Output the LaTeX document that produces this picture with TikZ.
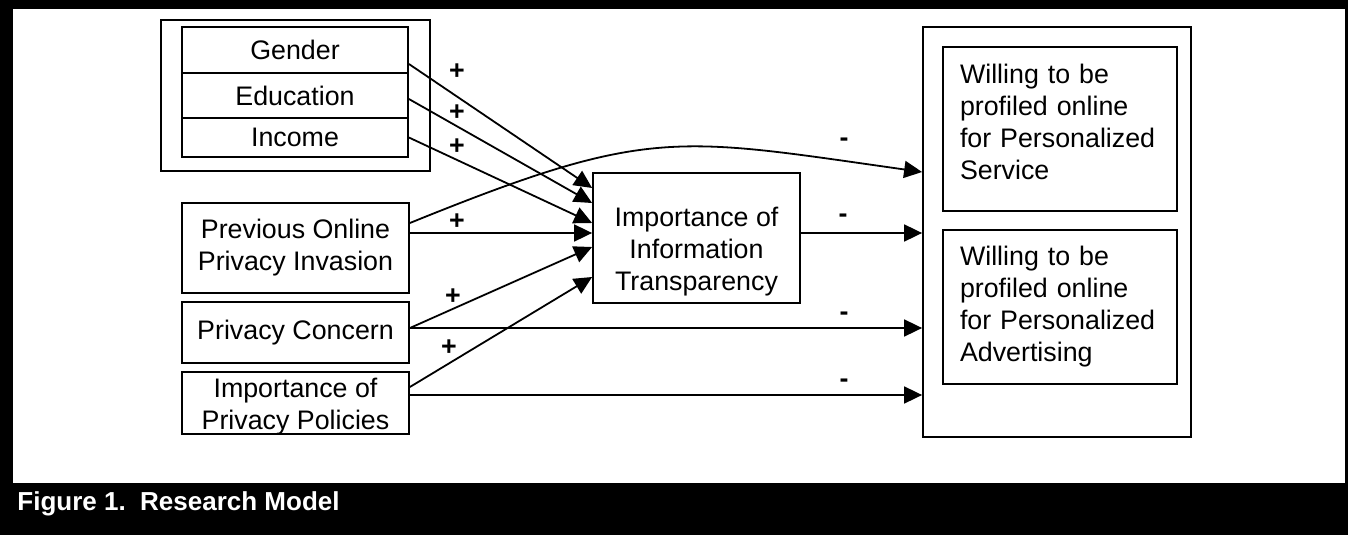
\documentclass[tikz,border=0pt]{standalone}
\usepackage{fontspec}
\setmainfont{Liberation Sans}
\usetikzlibrary{arrows.meta}

\begin{document}
\begin{tikzpicture}[x=0.5pt,y=-0.5pt,
  box/.style={draw,line width=0.9pt,inner sep=0pt,align=center,font=\fontsize{13.4}{16}\selectfont},
  arr/.style={line width=0.9pt,-{Triangle[length=9pt,width=8.5pt]}},
  sign/.style={font=\bfseries\fontsize{13.4}{16}\selectfont,inner sep=0pt}]
\useasboundingbox (0,0) rectangle (1348,535);
\fill[black] (0,0) rectangle (1348,535);
\fill[white] (13,9) rectangle (1345,483);
\node[anchor=west,text=white,font=\bfseries\fontsize{13}{16}\selectfont,inner sep=0pt] (caption) at (17,504) {Figure 1.\ \ Research Model};

\node[box,minimum width=134.5pt,minimum height=75.5pt] (demo) at (295.5,95.5) {};
\node[box,minimum width=113pt,minimum height=23pt] (gender) at (295,50) {Gender};
\node[box,minimum width=113pt,minimum height=22.5pt] (educ) at (295,95.5) {Education};
\node[box,minimum width=113pt,minimum height=19.5pt] (income) at (295,137.5) {Income};
\node[box,minimum width=113.5pt,minimum height=45pt] (prev) at (295.5,248) {Previous Online\\Privacy Invasion};
\node[box,minimum width=113.5pt,minimum height=30.5pt] (concern) at (295.5,332.5) {Privacy Concern};
\node[box,minimum width=113.5pt,minimum height=31pt,
  label={[name=policies-txt,align=center,yshift=-2pt,font=\fontsize{13.4}{16}\selectfont]center:Importance of\\Privacy Policies}] (policies) at (295.5,403) {};
\node[box,minimum width=103.5pt,minimum height=65pt,
  label={[name=trans-txt,align=center,yshift=-7pt,font=\fontsize{13.4}{16}\selectfont]center:Importance of\\Information\\Transparency}] (trans) at (696.5,238) {};
\node[box,minimum width=134pt,minimum height=205pt] (wtp) at (1057,232) {};
\node[box,minimum width=117pt,minimum height=82pt,
  label={[name=service-txt,align=left,text width=100pt,yshift=3.5pt,font=\fontsize{13.4}{16}\selectfont]center:Willing to be\\profiled online\\for Personalized\\Service}] (service) at (1060,129) {};
\node[box,minimum width=117pt,minimum height=77pt,align=left,text width=100pt] (advert) at (1060,307) {Willing to be\\profiled online\\for Personalized\\Advertising};

\draw[arr] ([yshift=-7pt]gender.east) -- ([yshift=25pt]trans.west);
\draw[arr] ([yshift=-1.75pt]educ.east) -- ([yshift=17.5pt]trans.west);
\draw[arr] (income.east) -- ([yshift=7.5pt]trans.west);
\draw[arr] ([yshift=12.5pt]prev.east) .. controls (649,126) and (675,137) .. ([yshift=30pt]wtp.west);
\draw[arr] ([yshift=7.5pt]prev.east) -- ([yshift=2.5pt]trans.west);
\draw[arr] ([yshift=2.25pt]concern.east) -- ([yshift=-4.5pt]trans.west);
\draw[arr] ([yshift=2.25pt]concern.east) -- ([yshift=-48pt]wtp.west);
\draw[arr] ([yshift=8pt]policies.east) -- ([yshift=-19.5pt]trans.west);
\draw[arr] ([yshift=4pt]policies.east) -- ([yshift=-81.5pt]wtp.west);
\draw[arr] ([yshift=2.5pt]trans.east) -- ([yshift=-0.5pt]wtp.west);

\node[sign] (plus1) at (457,72) {+};
\node[sign] (plus2) at (457,113) {+};
\node[sign] (plus3) at (457,147) {+};
\node[sign] (plus4) at (457,222) {+};
\node[sign] (plus5) at (453,297) {+};
\node[sign] (plus6) at (449,348) {+};
\node[sign] (minus1) at (844,142) {-};
\node[sign] (minus2) at (843,218) {-};
\node[sign] (minus3) at (844,316) {-};
\node[sign] (minus4) at (844,383) {-};
\end{tikzpicture}
\end{document}
